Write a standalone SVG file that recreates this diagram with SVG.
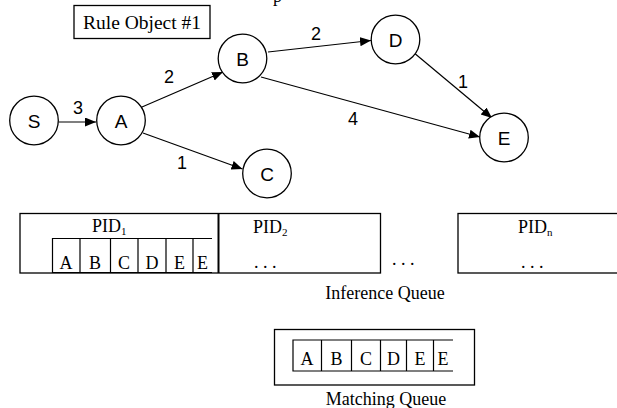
<svg xmlns="http://www.w3.org/2000/svg" width="617" height="408" viewBox="0 0 617 408">
<defs>
<style>
.node circle{fill:#fff;stroke:#000;stroke-width:1.3}
.nl{font-family:"Liberation Sans",Arial,sans-serif;font-size:19px;text-anchor:middle;fill:#000}
.el{font-family:"Liberation Sans",Arial,sans-serif;font-size:18px;text-anchor:middle;fill:#000}
.edge{stroke:#000;stroke-width:1.2;fill:none;marker-end:url(#ah)}
.box{fill:#fff;stroke:#000;stroke-width:1.3}
.cell{fill:none;stroke:#000;stroke-width:1.2}
.t{font-family:"Liberation Serif","Times New Roman",serif;font-size:18px;fill:#000}
.tc{font-family:"Liberation Serif","Times New Roman",serif;font-size:18px;fill:#000;text-anchor:middle}
</style>
<marker id="ah" markerUnits="userSpaceOnUse" markerWidth="12" markerHeight="10" refX="11" refY="4.5" orient="auto">
<path d="M0,0 L11,4.5 L0,9 Z" fill="#000"/>
</marker>
</defs>
<rect width="617" height="408" fill="#fff"/>
<text class="t" x="273" y="1.5">p</text>
<g id="rule-object">
<rect class="box" x="74" y="5.5" width="136" height="33"/>
<text class="t" x="83" y="28.5" font-size="20" textLength="118" lengthAdjust="spacingAndGlyphs">Rule Object #1</text>
</g>
<g id="connectors">
<line class="edge" x1="58.5" y1="122" x2="96" y2="122"/>
<line class="edge" x1="142" y1="107" x2="223" y2="72"/>
<line class="edge" x1="143" y1="133" x2="242.5" y2="169"/>
<line class="edge" x1="268" y1="52" x2="371" y2="40.5"/>
<line class="edge" x1="261" y1="77" x2="480" y2="137"/>
<line class="edge" x1="413" y1="52" x2="492" y2="118"/>
<text class="el" x="78" y="113.5">3</text>
<text class="el" x="169" y="82.5">2</text>
<text class="el" x="182" y="168.5">1</text>
<text class="el" x="316" y="39.5">2</text>
<text class="el" x="353" y="124.5">4</text>
<text class="el" x="463" y="87.5">1</text>
</g>
<g id="node-S" class="node"><circle cx="34" cy="120.5" r="24.3"/><text class="nl" x="34" y="127.5">S</text></g>
<g id="node-A" class="node"><circle cx="121" cy="120.5" r="24.3"/><text class="nl" x="121" y="127.5">A</text></g>
<g id="node-B" class="node"><circle cx="242.5" cy="58.5" r="24.3"/><text class="nl" x="242.5" y="65.5">B</text></g>
<g id="node-C" class="node"><circle cx="267" cy="173.5" r="24.3"/><text class="nl" x="267" y="180.5">C</text></g>
<g id="node-D" class="node"><circle cx="395.5" cy="39.5" r="24.3"/><text class="nl" x="395.5" y="46.5">D</text></g>
<g id="node-E" class="node"><circle cx="504" cy="137.5" r="24.3"/><text class="nl" x="504" y="144.5">E</text></g>
<g id="inference-queue">
<rect class="box" x="20" y="213.5" width="360.5" height="59.5"/>
<line x1="218.5" y1="213.5" x2="218.5" y2="273" stroke="#000" stroke-width="2"/>
<text class="t" x="92" y="232">PID<tspan font-size="11" dy="3">1</tspan></text>
<path class="cell" d="M212,238.5 H52.5 V272.5 H212 M80,238.5 V272.5 M110.5,238.5 V272.5 M138,238.5 V272.5 M166,238.5 V272.5 M193,238.5 V272.5"/>
<text class="tc" x="66" y="268.5">A</text>
<text class="tc" x="95" y="268.5">B</text>
<text class="tc" x="124" y="268.5">C</text>
<text class="tc" x="152" y="268.5">D</text>
<text class="tc" x="179.5" y="268.5">E</text>
<text class="tc" x="202.5" y="268.5">E</text>
<text class="t" x="253" y="233">PID<tspan font-size="11" dy="3">2</tspan></text>
<text class="t" x="254" y="268">. . .</text>
<text class="t" x="392" y="265">. . .</text>
<rect class="box" x="458" y="213.5" width="170" height="59.5"/>
<text class="t" x="518" y="233">PID<tspan font-size="11" dy="3">n</tspan></text>
<text class="t" x="521" y="268">. . .</text>
<text class="tc" x="385" y="298.5" font-size="17">Inference Queue</text>
</g>
<g id="matching-queue">
<rect class="box" x="274.5" y="329.5" width="200" height="55.5"/>
<path class="cell" d="M453,340 H293 V371 H453 M321.5,340 V371 M351.5,340 V371 M380.5,340 V371 M406.5,340 V371 M433.5,340 V371"/>
<text class="tc" x="307" y="364.5">A</text>
<text class="tc" x="336.5" y="364.5">B</text>
<text class="tc" x="366" y="364.5">C</text>
<text class="tc" x="393.5" y="364.5">D</text>
<text class="tc" x="420" y="364.5">E</text>
<text class="tc" x="443" y="364.5">E</text>
<text class="tc" x="386" y="405" font-size="17">Matching Queue</text>
</g>
</svg>
